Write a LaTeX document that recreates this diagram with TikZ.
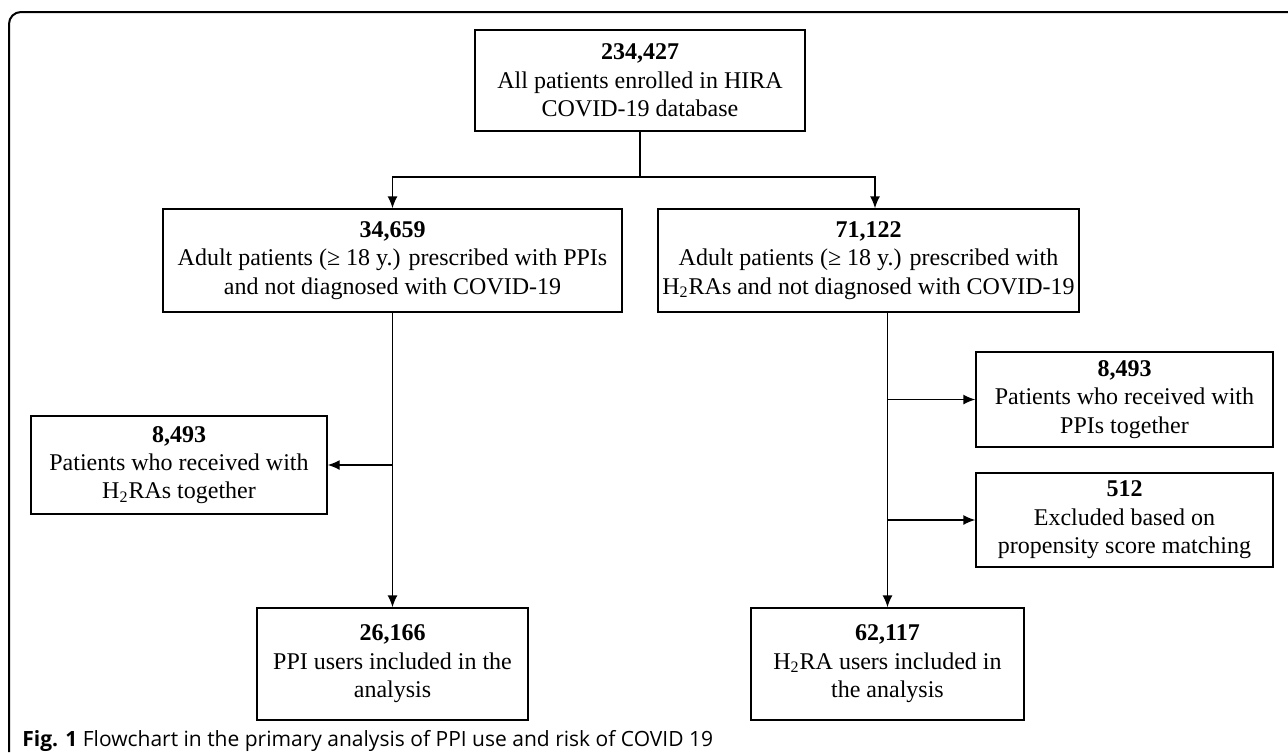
\documentclass[tikz,border=0pt]{standalone}
\usepackage{fontspec}
\setmainfont{Liberation Serif}
\newfontfamily\capfont{Open Sans}
\usetikzlibrary{arrows,arrows.meta,positioning}

\begin{document}
\begin{tikzpicture}[x=0.5pt,y=-0.5pt,
  box/.style={draw, line width=0.7pt, align=center, inner sep=0pt,
    font=\fontsize{12}{14.2}\selectfont},
  flow/.style={line width=0.7pt, -{Latex[length=6pt,width=5pt]}}]
\useasboundingbox (0,0) rectangle (1288,752);
\draw[line width=1pt, rounded corners=6pt] (9,752) -- (9,12) -- (1288,12);

\node[box, minimum width=165pt, minimum height=50.5pt] (all) at (640,80.5)
  {\textbf{234,427}\\All patients enrolled in HIRA\\COVID-19 database};
\node[box, minimum width=229.5pt, minimum height=51.5pt] (ppi) at (392.5,260.5)
  {\textbf{34,659}\\Adult patients (≥ 18 y.) prescribed with PPIs\\and not diagnosed with COVID-19};
\node[box, minimum width=210.5pt, minimum height=51.5pt] (h2ra) at (868.5,260.5)
  {\textbf{71,122}\\Adult patients (≥ 18 y.) prescribed with\\H\textsubscript{2}RAs and not diagnosed with COVID-19};
\node[box, minimum width=148pt, minimum height=49pt] (exclppi) at (179,465)
  {\textbf{8,493}\\Patients who received with\\H\textsubscript{2}RAs together};
\node[box, minimum width=148.5pt, minimum height=47.5pt] (exclh2) at (1124.5,399.5)
  {\textbf{8,493}\\Patients who received with\\PPIs together};
\node[box, minimum width=148.5pt, minimum height=47pt] (exclps) at (1124.5,520)
  {\textbf{512}\\Excluded based on\\propensity score matching};
\node[box, minimum width=135.5pt, minimum height=56pt] (ppiuse) at (392.5,664)
  {\textbf{26,166}\\PPI users included in the\\analysis};
\node[box, minimum width=136.5pt, minimum height=56pt] (h2use) at (887.5,664)
  {\textbf{62,117}\\H\textsubscript{2}RA users included in\\the analysis};

% split below the whole cohort
\coordinate (fork) at (640,177);
\draw[line width=0.7pt] (all) -- (fork);
\draw[flow] (fork) -| (ppi.north);
\draw[flow] (fork) -| ([xshift=3.25pt]h2ra.north);

% PPI branch
\draw[flow] (ppi) -- (ppiuse);
\draw[flow] (ppi.south |- exclppi.east) -- (exclppi.east);

% H2RA branch
\draw[flow] (h2ra.south -| h2use.north) -- (h2use.north);
\draw[flow] (h2use.north |- exclh2.west) -- (exclh2.west);
\draw[flow] (h2use.north |- exclps.west) -- (exclps.west);

\node[anchor=base west, inner sep=0pt, font=\capfont\fontsize{10.5}{12}\selectfont] (caption) at (22,746)
  {\textbf{Fig. 1} Flowchart in the primary analysis of PPI use and risk of COVID 19};
\end{tikzpicture}
\end{document}
